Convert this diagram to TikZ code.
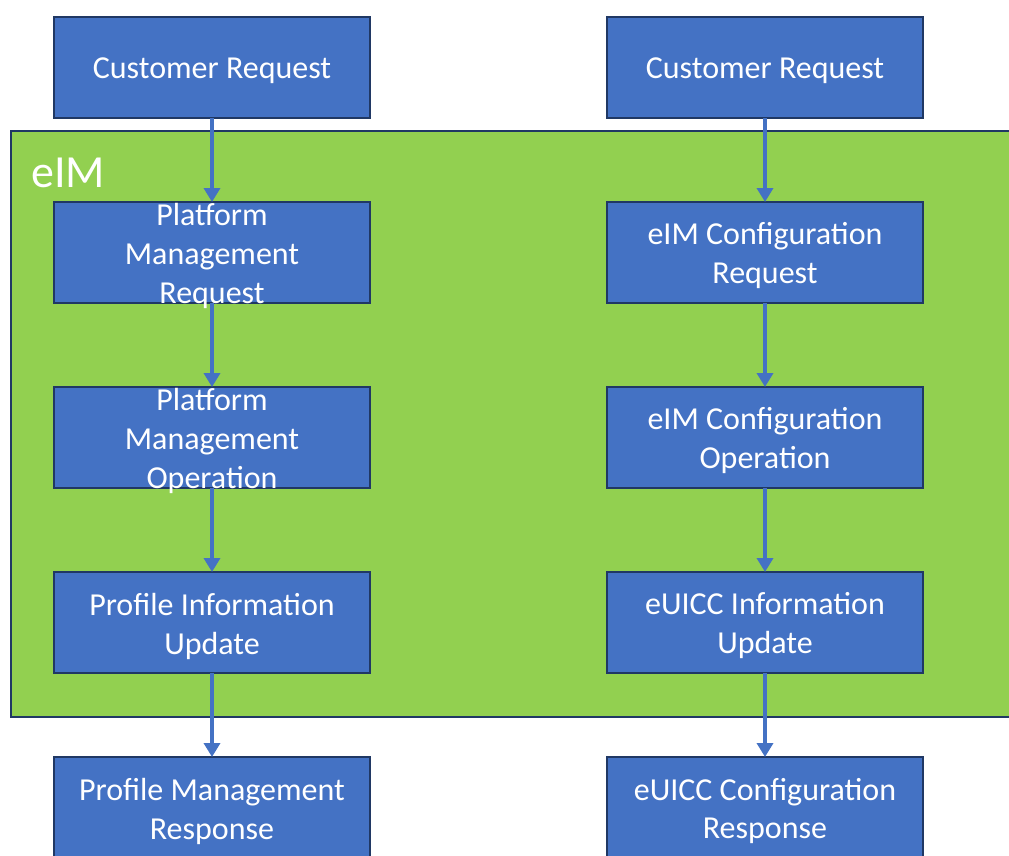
\documentclass[tikz,border=0pt]{standalone}
\usepackage{fontspec}
\setmainfont{Carlito}
\usetikzlibrary{positioning,arrows.meta}

\definecolor{boxblue}{HTML}{4472C4}
\definecolor{boxedge}{HTML}{203864}
\definecolor{eimgreen}{HTML}{92D050}

\tikzset{
  blk/.style={rectangle, draw=boxedge, line width=2pt, fill=boxblue,
    minimum width=316pt, minimum height=101pt, inner sep=0pt, outer sep=0pt},
  lbl/.style={text=white, align=center, inner sep=0pt, yshift=-3.5pt,
    font=\fontsize{32}{39}\selectfont},
  flow/.style={draw=boxblue, line width=4pt, -{Triangle[width=16pt,length=14pt]}}
}

\begin{document}
\begin{tikzpicture}[x=1pt, y=1pt, node distance=84pt]
  \useasboundingbox (0,0) rectangle (1009,-855);
  \clip (0,0) rectangle (1009,-855);

  % the eIM area
  \draw[fill=eimgreen, draw=boxedge, line width=2pt] (11,-131) rectangle (1030,-717);
  \node[anchor=base west, text=white, inner sep=0pt,
        font=\fontsize{46}{50}\selectfont] (eim) at (31,-187) {eIM};

  % left column
  \node[blk] (custL) at (212,-67.5) {};
  \node[blk, below=of custL] (pmreq) {};
  \node[blk, below=of pmreq] (pmop) {};
  \node[blk, below=of pmop] (profupd) {};
  \node[blk, below=of profupd] (profresp) {};

  \node[lbl] at (custL) {Customer Request};
  \node[lbl] at (pmreq) {Platform\\Management\\Request};
  \node[lbl] at (pmop) {Platform\\Management\\Operation};
  \node[lbl] at (profupd) {Profile Information\\Update};
  \node[lbl] at (profresp) {Profile Management\\Response};

  % right column
  \node[blk] (custR) at (765,-67.5) {};
  \node[blk, below=of custR] (cfgreq) {};
  \node[blk, below=of cfgreq] (cfgop) {};
  \node[blk, below=of cfgop] (euiccupd) {};
  \node[blk, below=of euiccupd] (euiccresp) {};

  \node[lbl] at (custR) {Customer Request};
  \node[lbl] at (cfgreq) {eIM Configuration\\Request};
  \node[lbl] at (cfgop) {eIM Configuration\\Operation};
  \node[lbl] at (euiccupd) {eUICC Information\\Update};
  \node[lbl] at (euiccresp) {eUICC Configuration\\Response};

  % arrows
  \draw[flow] (custL) -- (pmreq);
  \draw[flow] (pmreq) -- (pmop);
  \draw[flow] (pmop) -- (profupd);
  \draw[flow] (profupd) -- (profresp);

  \draw[flow] (custR) -- (cfgreq);
  \draw[flow] (cfgreq) -- (cfgop);
  \draw[flow] (cfgop) -- (euiccupd);
  \draw[flow] (euiccupd) -- (euiccresp);
\end{tikzpicture}
\end{document}
